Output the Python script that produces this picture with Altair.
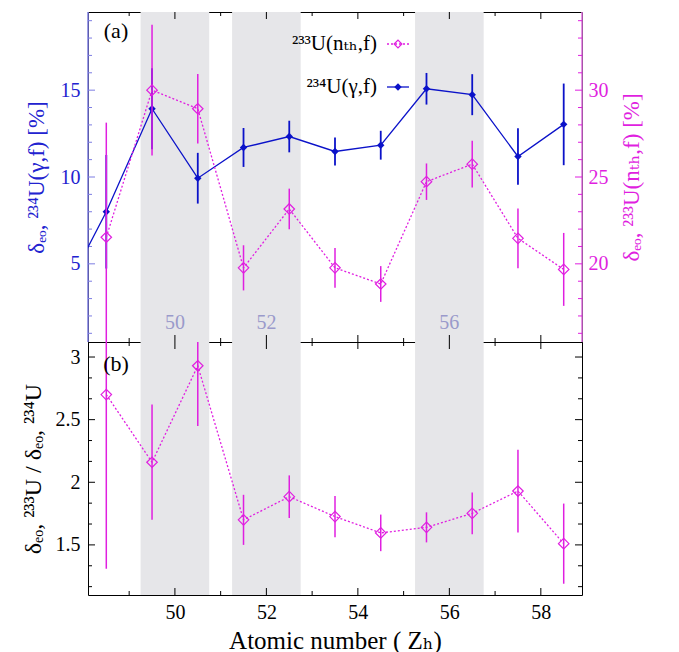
import altair as alt
import pandas as pd

FONT = "'Liberation Serif', 'Times New Roman', 'DejaVu Serif', serif"

# ---------------- data ----------------
Z = [48.5, 49.5, 50.5, 51.5, 52.5, 53.5, 54.5, 55.5, 56.5, 57.5, 58.5]
Z_234 = [47.5] + Z
DEO_234 = [2.9, 8.00, 13.93, 9.93, 11.70, 12.33, 11.47, 11.83, 15.08, 14.74, 11.18, 13.03]
ERR_234 = [1.5, 3.27, 2.33, 1.46, 1.12, 0.91, 0.81, 0.83, 0.91, 1.18, 1.63, 2.35]
DEO_233 = [21.53, 30.00, 28.93, 19.77, 23.16, 19.77, 18.84, 24.73, 25.74, 21.47, 19.68]
ERR_233 = [6.6, 3.76, 2.00, 1.30, 1.17, 1.14, 1.03, 1.05, 1.34, 1.72, 2.10]
RATIO = [2.70, 2.16, 2.93, 1.70, 1.885, 1.726, 1.596, 1.64, 1.752, 1.93, 1.51]
RATIO_ERR = [1.39, 0.46, 0.48, 0.20, 0.17, 0.165, 0.146, 0.12, 0.167, 0.33, 0.32]

BAND_LO = [49.25, 51.25, 55.25]
BAND_HI = [50.75, 52.75, 56.75]
BAND_MID = [50, 52, 56]
BAND_TEXT = ["50", "52", "56"]

X_DOMAIN = [48.1, 58.9]
Y234_DOMAIN = [0.5, 19.5]
Y233_DOMAIN = [15.5, 34.5]
RATIO_DOMAIN = [1.1, 3.12]

X_MAJOR = [50, 52, 54, 56, 58]
X_MINOR = [49, 51, 53, 55, 57]
Y234_MAJOR = [5, 10, 15]
Y234_MINOR = [1, 2, 3, 4, 6, 7, 8, 9, 11, 12, 13, 14, 16, 17, 18, 19]
Y233_MAJOR = [20, 25, 30]
Y233_MINOR = [16, 17, 18, 19, 21, 22, 23, 24, 26, 27, 28, 29, 31, 32, 33, 34]
RATIO_MAJOR = [1.5, 2.0, 2.5, 3.0]
RATIO_MINOR = [1.1667, 1.3333, 1.6667, 1.8333, 2.1667, 2.3333, 2.6667, 2.8333]

LEG_233 = "²³³U(nₜₕ,f)"
LEG_234 = "²³⁴U(γ,f)"

# ---------------- styling ----------------
W, H1, H2 = 494, 330, 253
BLUE = "#0b12c9"
BLUE_TXT = "#2222d0"
BLUE_AX = "#7d7de2"
MAG = "#e01fe0"
MAG_AX = "#e070e0"
BAND = "#e6e6e9"
BAND_TXT = "#9a9acb"
MAJ, MIN = 7, 4
U = alt.Undefined

xs = alt.Scale(domain=X_DOMAIN, nice=False, zero=False)
ys234 = alt.Scale(domain=Y234_DOMAIN, nice=False, zero=False)
ys233 = alt.Scale(domain=Y233_DOMAIN, nice=False, zero=False)
ysr = alt.Scale(domain=RATIO_DOMAIN, nice=False, zero=False)

band_df = pd.DataFrame({"lo": BAND_LO, "hi": BAND_HI, "mid": BAND_MID, "t": BAND_TEXT})


def bands(H, xa):
    return alt.Chart(band_df).mark_rect(color=BAND).encode(
        x=alt.X("lo:Q", scale=xs, axis=xa), x2="hi:Q",
        y=alt.value(0), y2=alt.value(H))


def xticks(H, xa):
    out = []
    for vals, ln in ((X_MAJOR, MAJ), (X_MINOR, MIN)):
        df = pd.DataFrame({"z": vals})
        base = alt.Chart(df).mark_rule(color="black", strokeWidth=1)
        out.append(base.encode(x=alt.X("z:Q", scale=xs, axis=xa),
                               y=alt.value(H), y2=alt.value(H - ln)))
        out.append(base.encode(x=alt.X("z:Q", scale=xs, axis=xa),
                               y=alt.value(0), y2=alt.value(ln)))
    return out


def yticks(vals, ln, scale, side, color, ya=U):
    df = pd.DataFrame({"v": vals})
    x0, x1 = (0, ln) if side == "left" else (W - ln, W)
    return alt.Chart(df).mark_rule(color=color, strokeWidth=1).encode(
        y=alt.Y("v:Q", scale=scale, axis=ya), x=alt.value(x0), x2=alt.value(x1))


def border(side, H, color):
    xv = 0 if side == "left" else W
    return alt.Chart(pd.DataFrame({"a": [0]})).mark_rule(color=color, strokeWidth=1.5).encode(
        x=alt.value(xv), y=alt.value(0), y2=alt.value(H))


# ---------------- top panel ----------------
df234 = pd.DataFrame({"z": Z_234, "v": DEO_234,
                      "lo": [v - e for v, e in zip(DEO_234, ERR_234)],
                      "hi": [v + e for v, e in zip(DEO_234, ERR_234)]})
df233 = pd.DataFrame({"z": Z, "v": DEO_233,
                      "lo": [v - e for v, e in zip(DEO_233, ERR_233)],
                      "hi": [v + e for v, e in zip(DEO_233, ERR_233)]})

ax234 = alt.Axis(orient="left", values=Y234_MAJOR, ticks=False, tickSize=0, domain=False, grid=False,
                 labelPadding=8, labelColor=BLUE_TXT, labelFontSize=20, labelFont=FONT,
                 title="δₑₒ, ²³⁴U(γ,f) [%]", titleColor=BLUE_TXT, titleFontSize=23,
                 titleFont=FONT, titleFontWeight="normal", titlePadding=12)
ax233 = alt.Axis(orient="right", values=Y233_MAJOR, ticks=False, tickSize=0, domain=False, grid=False,
                 labelPadding=6, labelColor=MAG, labelFontSize=20, labelFont=FONT,
                 title="δₑₒ, ²³³U(nₜₕ,f) [%]", titleColor=MAG, titleFontSize=23,
                 titleFont=FONT, titleFontWeight="normal", titlePadding=12,
                 titleAngle=270, titleBaseline="top")

blue = alt.layer(
    yticks(Y234_MAJOR, MAJ, ys234, "left", BLUE_AX, ax234),
    yticks(Y234_MINOR, MIN, ys234, "left", BLUE_AX),
    alt.Chart(df234).mark_rule(color=BLUE, strokeWidth=1.8, clip=True).encode(
        x=alt.X("z:Q", scale=xs, axis=None),
        y=alt.Y("lo:Q", scale=ys234), y2="hi:Q"),
    alt.Chart(df234).mark_line(color=BLUE, strokeWidth=1.3, clip=True).encode(
        x=alt.X("z:Q", scale=xs, axis=None),
        y=alt.Y("v:Q", scale=ys234)),
    alt.Chart(df234).mark_point(shape="diamond", filled=True, size=55, color=BLUE,
                                opacity=1, clip=True).encode(
        x=alt.X("z:Q", scale=xs, axis=None),
        y=alt.Y("v:Q", scale=ys234)),
)

mag = alt.layer(
    yticks(Y233_MAJOR, MAJ, ys233, "right", MAG, ax233),
    yticks(Y233_MINOR, MIN, ys233, "right", MAG),
    alt.Chart(df233).mark_rule(color=MAG, strokeWidth=1.5, clip=True).encode(
        x=alt.X("z:Q", scale=xs, axis=None),
        y=alt.Y("lo:Q", scale=ys233), y2="hi:Q"),
    alt.Chart(df233).mark_line(color=MAG, strokeWidth=1.3, strokeDash=[2, 2], clip=True).encode(
        x=alt.X("z:Q", scale=xs, axis=None),
        y=alt.Y("v:Q", scale=ys233)),
    alt.Chart(df233).mark_point(shape="diamond", filled=False, size=110, color=MAG,
                                strokeWidth=1.2, opacity=1, clip=True).encode(
        x=alt.X("z:Q", scale=xs, axis=None),
        y=alt.Y("v:Q", scale=ys233)),
)

one = pd.DataFrame({"a": [0]})
legend = [
    alt.Chart(one).mark_text(text=LEG_233, align="right", baseline="middle", fontSize=21,
                             font=FONT, color="black").encode(x=alt.value(289), y=alt.value(32)),
    alt.Chart(one).mark_rule(color=MAG, strokeWidth=1.3, strokeDash=[2, 2]).encode(
        x=alt.value(299), x2=alt.value(321), y=alt.value(32)),
    alt.Chart(one).mark_point(shape="diamond", filled=False, size=60, color=MAG,
                              strokeWidth=1.2, opacity=1).encode(x=alt.value(310), y=alt.value(32)),
    alt.Chart(one).mark_text(text=LEG_234, align="right", baseline="middle", fontSize=21,
                             font=FONT, color="black").encode(x=alt.value(289), y=alt.value(75)),
    alt.Chart(one).mark_rule(color=BLUE, strokeWidth=1.3).encode(
        x=alt.value(299), x2=alt.value(321), y=alt.value(75)),
    alt.Chart(one).mark_point(shape="diamond", filled=True, size=55, color=BLUE,
                              opacity=1).encode(x=alt.value(310), y=alt.value(75)),
    alt.Chart(one).mark_text(text="(a)", align="center", baseline="middle", fontSize=22,
                             font=FONT, color="black").encode(x=alt.value(28), y=alt.value(19)),
]

band_text = alt.Chart(band_df).mark_text(fontSize=20, font=FONT, color=BAND_TXT,
                                         baseline="middle").encode(
    x=alt.X("mid:Q", scale=xs, axis=None), y=alt.value(311), text="t:N")

top = alt.layer(
    bands(H1, None), band_text, *xticks(H1, None),
    border("left", H1, BLUE_AX), border("right", H1, MAG_AX),
    blue, mag, *legend,
).resolve_scale(y="independent").properties(width=W, height=H1)

# ---------------- bottom panel ----------------
dfr = pd.DataFrame({"z": Z, "v": RATIO,
                    "lo": [v - e for v, e in zip(RATIO, RATIO_ERR)],
                    "hi": [v + e for v, e in zip(RATIO, RATIO_ERR)]})

axr = alt.Axis(orient="left", values=RATIO_MAJOR, format="~g", ticks=False, tickSize=0,
               domain=False, grid=False, labelPadding=8, labelColor="black", labelFontSize=20,
               labelFont=FONT, title="δₑₒ, ²³³U / δₑₒ, ²³⁴U", titleColor="black",
               titleFontSize=24, titleFont=FONT, titleFontWeight="normal", titlePadding=10)
axx = alt.Axis(orient="bottom", values=X_MAJOR, format="d", ticks=False, tickSize=0, domain=False,
               grid=False, labelPadding=7, labelColor="black", labelFontSize=20, labelFont=FONT,
               title="Atomic number ( Zₕ)", titleColor="black", titleFontSize=25,
               titleFont=FONT, titleFontWeight="normal", titlePadding=6)

bottom = alt.layer(
    bands(H2, axx), *xticks(H2, U),
    yticks(RATIO_MAJOR, MAJ, ysr, "left", "black", axr),
    yticks(RATIO_MINOR, MIN, ysr, "left", "black"),
    yticks(RATIO_MAJOR, MAJ, ysr, "right", "black"),
    yticks(RATIO_MINOR, MIN, ysr, "right", "black"),
    alt.Chart(dfr).mark_rule(color=MAG, strokeWidth=1.5, clip=True).encode(
        x=alt.X("z:Q", scale=xs),
        y=alt.Y("lo:Q", scale=ysr), y2="hi:Q"),
    alt.Chart(dfr).mark_line(color=MAG, strokeWidth=1.3, strokeDash=[2, 2], clip=True).encode(
        x=alt.X("z:Q", scale=xs),
        y=alt.Y("v:Q", scale=ysr)),
    alt.Chart(dfr).mark_point(shape="diamond", filled=False, size=110, color=MAG,
                              strokeWidth=1.2, opacity=1, clip=True).encode(
        x=alt.X("z:Q", scale=xs),
        y=alt.Y("v:Q", scale=ysr)),
    alt.Chart(one).mark_text(text="(b)", align="center", baseline="middle", fontSize=22,
                             font=FONT, color="black").encode(x=alt.value(28), y=alt.value(22)),
).properties(width=W, height=H2)

chart = alt.vconcat(top, bottom, spacing=0, bounds="flush").properties(
    padding={"left": 20, "top": 10, "right": 5, "bottom": 5}
).configure(font=FONT).configure_view(stroke="black", strokeWidth=1)

chart.save("out.html", embed_options={"renderer": "svg", "actions": False})
